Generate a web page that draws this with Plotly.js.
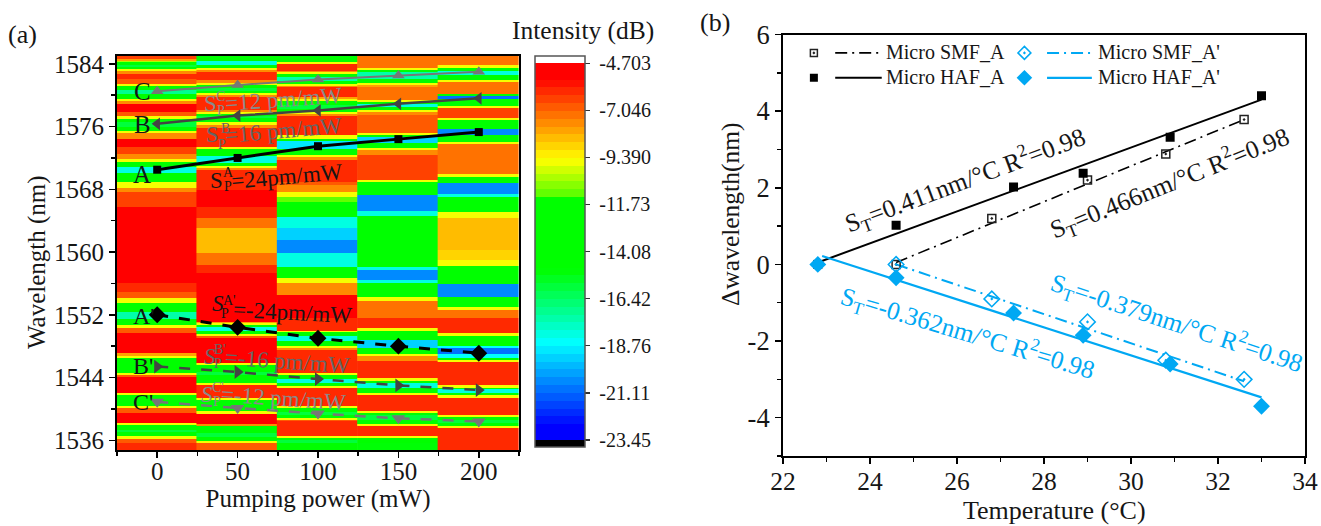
<!DOCTYPE html>
<html>
<head>
<meta charset="utf-8">
<script src="https://cdn.plot.ly/plotly-3.0.0.min.js"></script>
<style>html,body{margin:0;padding:0;background:#fff}</style>
</head>
<body>
<div id="chart" style="width:1321px;height:526px"></div>
<script>
/* ---------- panel (a): spectral map, one column of bands per pump power ---------- */
const pumpColumns = [0, 50, 100, 150, 200];
const edges0 = [1585,1584.6,1584.4,1584.2,1583.9,1583.65,1583.3,1583.05,1582.7,1582.05,1581.45,1581.2,1580.7,1580.1,1579.5,1579.3,1578.9,1577.85,1577.3,1577,1576.55,1575.9,1575.4,1575.15,1574.45,1573.4,1572.5,1571.9,1571.45,1570.8,1570.05,1568.9,1568.2,1567.7,1565.75,1556.05,1554.9,1554.15,1553.5,1552.35,1551.45,1550.7,1550.3,1549.7,1547.15,1546.75,1546.5,1544.6,1544.3,1544.1,1542,1541.8,1540.35,1540.1,1539.5,1538.2,1537.95,1537.3,1537.05,1536.55,1536.15,1535.65,1534.8];
const bands0 = [-6.5,-8,-10.5,-13,-16,-13,-9.5,-7.5,-6,-7,-9.5,-13,-17,-13,-9.5,-7.5,-5.5,-7,-9.5,-13,-16,-13,-9.5,-7.5,-5,-6.5,-7.5,-9.5,-13,-18,-13,-9.5,-7.5,-6.5,-5,-6,-7,-9.5,-13,-17.5,-13,-9.5,-7,-5,-8,-9.5,-13,-9.5,-7,-5,-9.5,-13,-9.5,-7,-5,-9.5,-13,-16,-13,-9.5,-7,-6];
const edges50 = [1585,1584.4,1583.9,1583.45,1583.2,1583,1581.95,1581.55,1581.3,1580.95,1580.55,1580.3,1580.05,1579.8,1578.15,1577.9,1577.6,1577.35,1577.1,1576.6,1576.2,1575.85,1573.4,1573.15,1572.25,1571.35,1571,1570.75,1570.5,1567.9,1565.75,1564.35,1563.1,1559.9,1558.35,1557.35,1551.1,1551,1550.7,1550.45,1549.95,1549.55,1549.3,1549.05,1545.85,1545.6,1544.7,1544.3,1543.3,1543.05,1541.4,1541.15,1539.75,1539.35,1538.1,1537.8,1536.9,1536.4,1535.9,1535.65,1534.8];
const bands50 = [-13,-18,-13,-9.5,-7.5,-6,-7.5,-9.5,-13,-16,-13,-9.5,-7.5,-6,-7.5,-9.5,-13,-16,-13,-9.5,-7.5,-6,-9.5,-13,-18,-13,-9.5,-7.5,-6,-5.2,-6,-7.3,-8.3,-7.3,-6,-5,-8,-9.5,-13,-18,-13,-9.5,-7,-5,-9.5,-13,-16,-13,-9.5,-6,-9.5,-13,-9.5,-5,-7.5,-13,-16,-13,-9.5,-7];
const edges100 = [1585,1584.25,1584,1583.1,1583,1582.7,1582.35,1581.85,1581.45,1581.2,1581.05,1579.8,1579.55,1579.3,1578.75,1578.25,1577.9,1577.6,1577.35,1574.9,1574.45,1574.2,1573.15,1572.4,1572.15,1571.75,1568.95,1568.55,1567.7,1567.05,1566.4,1564.5,1563.1,1561.55,1559.9,1558.1,1556.7,1556.05,1554.55,1551.6,1549.95,1549.8,1549.3,1548.65,1548,1547.8,1547.5,1544.6,1544.3,1543.8,1543.3,1542.9,1542.65,1540.35,1540.1,1539.6,1539.2,1538.85,1538.6,1538.45,1536.55,1536.3,1536.05,1535.65,1534.8];
const bands100 = [-13,-9.5,-6,-7.5,-9.5,-13,-17.5,-13,-9.5,-7.5,-6,-8,-9.5,-13,-16,-13,-9.5,-7.5,-6,-9.5,-13,-19,-13,-9.5,-7.5,-6,-7,-7.5,-9.5,-11,-13,-18,-19.5,-20.5,-18,-13,-9.5,-7.5,-5.5,-6,-9.5,-13,-18,-13,-9.5,-7.5,-6,-9.5,-13,-18,-13,-9.5,-6,-9.5,-13,-16,-13,-9.5,-7,-6,-9.5,-13,-16,-13];
const edges150 = [1585,1583.5,1583.2,1583,1582.1,1581.55,1581.3,1581.05,1579.4,1579.15,1578.9,1578.5,1578.15,1577.9,1577.5,1575.2,1574.9,1574.7,1573.9,1573.3,1573,1572.4,1569.2,1568.95,1567.3,1565.25,1564.6,1558.1,1557.7,1556.45,1556.05,1554.3,1553.8,1551.6,1550.3,1549.95,1548.8,1547.8,1547,1546.75,1546.1,1543.95,1543.55,1543.3,1542.65,1542,1541.8,1539.75,1539.5,1539.2,1538.6,1538.1,1537.8,1536.55,1536.3,1535.65,1534.8];
const bands150 = [-7.2,-9.5,-13,-17.5,-13,-9.5,-8,-7.2,-9.5,-13,-18,-13,-9.5,-7.8,-6.8,-9.5,-13,-19.5,-13,-9.5,-7.8,-6.5,-9.5,-13,-20.5,-18,-13,-18,-20.5,-18,-13,-9.5,-7.3,-6,-9.5,-13,-19.5,-13,-9.5,-7.5,-6,-9.5,-13,-18,-13,-9.5,-6,-9.5,-13,-16,-13,-9.5,-6,-9.5,-13,-15];
const edges200 = [1585,1583.9,1583.5,1583.1,1582.6,1581.95,1581.7,1580.15,1579.9,1579.55,1578.65,1578.4,1577.1,1576.85,1575.7,1574.95,1574.05,1573.8,1569.95,1569.6,1568.8,1567.4,1567.05,1565.1,1564.35,1560.25,1559,1558.25,1555.95,1554.3,1553,1552.6,1551.6,1549.7,1549.3,1548.05,1547.8,1547,1546.5,1546.25,1546,1543.05,1542.65,1542.55,1542.05,1541.8,1541.4,1539.25,1539,1538.6,1538.2,1537.8,1537.55,1534.8];
const bands200 = [-7.3,-9.5,-13,-18,-13,-9.5,-7.3,-13,-21,-13,-9.5,-6.5,-9.5,-13,-20.5,-13,-9.5,-7.3,-9.5,-13,-20.5,-18,-13,-9.5,-8.3,-8.8,-9.5,-13,-20.5,-13,-9.5,-7.3,-6,-9.5,-13,-18.5,-21,-18.5,-13,-9.5,-6,-9.5,-13,-18,-13,-9.5,-6,-9.5,-13,-16,-13,-9.5,-6];
const columnEdges = [edges0, edges50, edges100, edges150, edges200];
const columnBands = [bands0, bands50, bands100, bands150, bands200];

/* tracked peaks */
const pump = [0, 50, 100, 150, 200];
const peakA = [1570.5, 1572.0, 1573.5, 1574.4, 1575.3];
const peakB = [1576.35, 1577.4, 1578.05, 1578.9, 1579.6];
const peakC = [1580.5, 1581.3, 1582.0, 1582.5, 1583.0];
const peakA2 = [1552.0, 1550.4, 1549.0, 1548.0, 1547.1];
const peakB2 = [1545.4, 1544.7, 1543.8, 1543.0, 1542.4];
const peakC2 = [1540.9, 1540.1, 1539.4, 1538.8, 1538.4];

/* colour bar */
const cbarTickValues = [-4.703, -7.046, -9.390, -11.73, -14.08, -16.42, -18.76, -21.11, -23.45];
const cbarTickLabels = ['-4.703', '-7.046', '-9.390', '-11.73', '-14.08', '-16.42', '-18.76', '-21.11', '-23.45'];
const rampValues = [-4.70, -5.45, -9.50, -11.25, -11.26, -15.0, -18.6, -22.8, -23.45];
const rampColors = [[255,0,0],[255,0,0],[255,255,0],[90,255,0],[0,255,0],[0,255,0],[0,255,255],[0,0,255],[0,0,255]];

/* ---------- panel (b) ---------- */
const smfTemp = [24.6, 26.8, 29.0, 30.8, 32.6];
const smfA = [0, 1.2, 2.2, 2.88, 3.78];
const smfA2 = [0, -0.9, -1.5, -2.5, -3.0];
const hafTemp = [22.8, 24.6, 27.3, 28.9, 30.9, 33.0];
const hafA = [0, 1.02, 2.02, 2.38, 3.32, 4.4];
const hafA2 = [0, -0.35, -1.27, -1.85, -2.6, -3.7];
const fitSmfAx = [24.6, 32.6], fitSmfAy = [0.05, 3.78];
const fitHafAx = [22.8, 33.0], fitHafAy = [0.05, 4.3];
const fitSmfA2x = [24.6, 32.6], fitSmfA2y = [0, -3.05];
const fitHafA2x = [22.9, 33.0], fitHafA2y = [0.22, -3.47];
const yTickValues = [-4, -2, 0, 2, 4, 6];
const yTickLabels = ['-4', '-2', '0', '2', '4', '6'];

const SERIF = '"Liberation Serif","Times New Roman",serif';
const BLUE = '#00a8f3';
const INK = '#161616';
const W = 1321, H = 526;
const px = v => v / W, py = v => 1 - v / H;

/* stepped colour scale */
const cmax = -4.34, cmin = -23.8, step = 0.39;
function rampColor(v) {
  if (v >= rampValues[0]) return rampColors[0];
  for (let i = 1; i < rampValues.length; i++) {
    if (v >= rampValues[i]) {
      const t = (rampValues[i - 1] - v) / (rampValues[i - 1] - rampValues[i]);
      return rampColors[i - 1].map((c, k) => Math.round(c + t * (rampColors[i][k] - c)));
    }
  }
  return rampColors[rampColors.length - 1];
}
const toT = v => (v - cmin) / (cmax - cmin);
const scale = [[0, 'rgb(0,0,0)'], [toT(-23.45), 'rgb(0,0,0)']];
for (let lo = -23.45; lo < -4.703 - 1e-6; lo += step) {
  const hi = Math.min(lo + step, -4.703);
  const col = 'rgb(' + rampColor((lo + hi) / 2).join(',') + ')';
  scale.push([toT(lo), col], [toT(hi), col]);
}
scale.push([toT(-4.703), 'rgb(255,255,255)'], [1, 'rgb(255,255,255)']);

const traces = [];
pumpColumns.forEach((c, i) => {
  traces.push({
    type: 'heatmap', xaxis: 'x', yaxis: 'y', coloraxis: 'coloraxis',
    x: [c - 25.6, c + 25],
    y: columnEdges[i].slice().reverse(),
    z: columnBands[i].slice().reverse().map(v => [v]),
    hoverinfo: 'skip'
  });
});
function peak(y, sym, size, color, width, dash) {
  traces.push({
    type: 'scatter', mode: 'lines+markers', xaxis: 'x', yaxis: 'y', x: pump, y: y,
    marker: { symbol: sym, size: size, color: color },
    line: { color: color, width: width, dash: dash || 'solid' }, showlegend: false
  });
}
peak(peakA, 'square', 8, '#000', 3);
peak(peakB, 'triangle-left', 11, '#444', 2.5);
peak(peakC, 'triangle-up', 11, '#777', 2);
peak(peakA2, 'diamond', 13, '#000', 3, '11px,11px');
peak(peakB2, 'triangle-right', 12, '#444', 2.5, '11px,11px');
peak(peakC2, 'triangle-down', 12, '#777', 2.5, '11px,11px');

function series(x, y, mode, color, width, dash, sym, size) {
  const t = { type: 'scatter', mode: mode, xaxis: 'x2', yaxis: 'y2', x: x, y: y, showlegend: false };
  if (mode.includes('lines')) t.line = { color: color, width: width, dash: dash };
  if (mode.includes('markers')) {
    const open = sym.includes('open');
    t.marker = { symbol: sym, size: size, color: color, line: { color: color, width: open ? 1.5 : 0 } };
  }
  traces.push(t);
}
const DD = '12px,5px,2px,5px';
series(fitHafAx, fitHafAy, 'lines', '#000', 2, 'solid');
series(fitSmfAx, fitSmfAy, 'lines', '#000', 1.6, DD);
series(fitHafA2x, fitHafA2y, 'lines', BLUE, 2.2, 'solid');
series(fitSmfA2x, fitSmfA2y, 'lines', BLUE, 2, DD);
series(smfTemp, smfA, 'markers', '#222', 0, '', 'square-open-dot', 8);
series(hafTemp, hafA, 'markers', '#000', 0, '', 'square', 9);
series(smfTemp, smfA2, 'markers', BLUE, 0, '', 'diamond-open-dot', 12);
series(hafTemp, hafA2, 'markers', BLUE, 0, '', 'diamond', 13);

/* hand-placed key, as in the figure */
const keyRow1 = 5.52, keyRow2 = 4.87, keyM1 = 22.71, keyM2 = 27.55;
series([keyM1], [keyRow1], 'markers', '#222', 0, '', 'square-open-dot', 7);
series([keyM1], [keyRow2], 'markers', '#000', 0, '', 'square', 8);
series([keyM2], [keyRow1], 'markers', BLUE, 0, '', 'diamond-open-dot', 10);
series([keyM2], [keyRow2], 'markers', BLUE, 0, '', 'diamond', 12);
series([23.2, 24.27], [keyRow1, keyRow1], 'lines', '#000', 1.6, DD);
series([23.2, 24.27], [keyRow2, keyRow2], 'lines', '#000', 2, 'solid');
series([28.07, 29.1], [keyRow1, keyRow1], 'lines', BLUE, 2, DD);
series([28.07, 29.1], [keyRow2, keyRow2], 'lines', BLUE, 2.2, 'solid');

const ann = [];
function note(text, x, y, size, color, angle, anchor) {
  ann.push({
    xref: 'paper', yref: 'paper', x: px(x), y: py(y), text: text, showarrow: false,
    xanchor: anchor || 'center', yanchor: 'middle', textangle: angle || 0,
    font: { family: SERIF, size: size, color: color || INK }, borderpad: 0, borderwidth: 0
  });
}
note('(a)', 8, 35, 26, INK, 0, 'left');
note('(b)', 700, 22, 26, INK, 0, 'left');
note('Intensity (dB)', 583, 30, 25.5, INK);

note('Wavelength (nm)', 37, 262, 25, INK, -90);
note('\u0394wavelength(nm)', 730, 214, 25.5, INK, -90);
note('Temperature (°C)', 1054.5, 510, 26, INK);

note('C', 134, 92, 25, INK, 0, 'left');
note('B', 134, 125, 25, INK, 0, 'left');
note('A', 133, 174, 25, INK, 0, 'left');
note("A'", 133, 316, 24, INK, 0, 'left');
note("B'", 133, 366, 24, INK, 0, 'left');
note("C'", 133, 402, 24, INK, 0, 'left');

function stacked(sx, sy, up, ux, uy, lx, ly, rest, rx, ry, angle, color, italic) {
  note(italic ? '<i>S</i>' : 'S', sx, sy, 23, color);
  note(up, ux, uy, 14, color);
  note('P', lx, ly, 14, color);
  note(rest, rx, ry, 23, color, angle);
}
const GC = '#8a8a8a', GB = '#666';
stacked(210, 103, 'C', 220, 96, 221, 111, '=12 pm/mW', 283, 100, -4, GC);
stacked(212, 135, 'B', 226, 129, 222, 144, '=16 pm/mW', 283, 131, -5, GB);
stacked(217, 180, 'A', 228, 172, 228, 186, '=24pm/mW', 287, 176, -5, INK);
stacked(218, 304, "A'", 229, 300, 225, 313, '=-24pm/mW', 292, 312, 3, INK, true);
stacked(210, 356, "B'", 220, 349, 218, 363, '=-16 pm/mW', 287, 361, 4, GB, true);
stacked(207, 394, "C'", 218, 387, 217, 401, '=-12 pm/mW', 283, 398, 4, GC, true);

note('S<sub>T</sub>=0.411nm/°C R<sup>2</sup>=0.98', 965, 180, 25.5, INK, -20.5);
note('S<sub>T</sub>=0.466nm/°C R<sup>2</sup>=0.98', 1169, 183, 25.5, INK, -22);
note('S<sub>T</sub>=-0.379nm/°C R<sup>2</sup>=0.98', 1177, 323, 25.5, BLUE, 18.3);
note('S<sub>T</sub>=-0.362nm/°C R<sup>2</sup>=0.98', 968, 333, 25.5, BLUE, 16.7);

note('Micro SMF_A', 886, 52, 20, INK, 0, 'left');
note('Micro HAF_A', 886, 77, 20, INK, 0, 'left');
note("Micro SMF_A'", 1098, 52, 20, INK, 0, 'left');
note("Micro HAF_A'", 1098, 77, 20, INK, 0, 'left');

const NB = '\u00a0';
function axis(size, extra) {
  return Object.assign({
    showgrid: false, zeroline: false, showline: true, linecolor: '#000', linewidth: 2,
    mirror: true, ticks: 'outside', ticklen: 6, tickwidth: 1.5, tickcolor: '#000',
    tickfont: { family: SERIF, size: size, color: INK }, layer: 'above traces'
  }, extra);
}
const titleFont = s => ({ family: SERIF, size: s, color: INK });
const layout = {
  width: W, height: H, autosize: false, paper_bgcolor: '#fff', plot_bgcolor: '#fff',
  margin: { l: 0, r: 0, t: 0, b: 0, pad: 0 }, showlegend: false,
  xaxis: axis(25, {
    domain: [px(117), px(519)], range: [-25, 225], tickvals: [0, 50, 100, 150, 200],
    ticklabelstandoff: -8,
    minor: { dtick: 25, tick0: -25, ticks: 'outside', ticklen: 4, tickcolor: '#000', tickwidth: 1.5, showgrid: false },
    title: { text: 'Pumping power (mW)', font: titleFont(25), standoff: 0 }, anchor: 'y'
  }),
  yaxis: axis(25, {
    domain: [py(450), py(56)], range: [1534.76, 1585], tickvals: [1536, 1544, 1552, 1560, 1568, 1576, 1584],
    minor: { dtick: 4, tick0: 1536, ticks: 'outside', ticklen: 4, tickcolor: '#000', tickwidth: 1.5, showgrid: false },
    anchor: 'x'
  }),
  xaxis2: axis(25.5, {
    domain: [px(783), px(1305)], range: [22, 34], tickvals: [22, 24, 26, 28, 30, 32, 34],
    ticklabelstandoff: -5,
    minor: { dtick: 1, tick0: 22, ticks: 'outside', ticklen: 4, tickcolor: '#000', tickwidth: 1.5, showgrid: false },
    anchor: 'y2'
  }),
  yaxis2: axis(26.5, {
    domain: [py(456), py(34.5)], range: [-5, 6], tickmode: 'array', tickvals: yTickValues, ticktext: yTickLabels,
    minor: { dtick: 1, tick0: -5, ticks: 'outside', ticklen: 4, tickcolor: '#000', tickwidth: 1.5, showgrid: false },
    anchor: 'x2'
  }),
  coloraxis: {
    cmin: cmin, cmax: cmax, colorscale: scale, showscale: true,
    colorbar: {
      x: px(535), xanchor: 'left', xpad: 0, y: py(56), yanchor: 'top', ypad: 0,
      thickness: 50, thicknessmode: 'pixels', len: 391, lenmode: 'pixels',
      outlinecolor: '#555', outlinewidth: 1.5, borderwidth: 0,
      tickmode: 'array', tickvals: cbarTickValues, ticktext: cbarTickLabels.map(s => NB + s),
      ticks: 'outside', ticklen: 5, tickwidth: 1.5, tickcolor: '#333',
      tickfont: { family: SERIF, size: 20, color: INK }
    }
  },
  annotations: ann
};
Plotly.newPlot('chart', traces, layout, { displayModeBar: false, staticPlot: true });
</script>
</body>
</html>
